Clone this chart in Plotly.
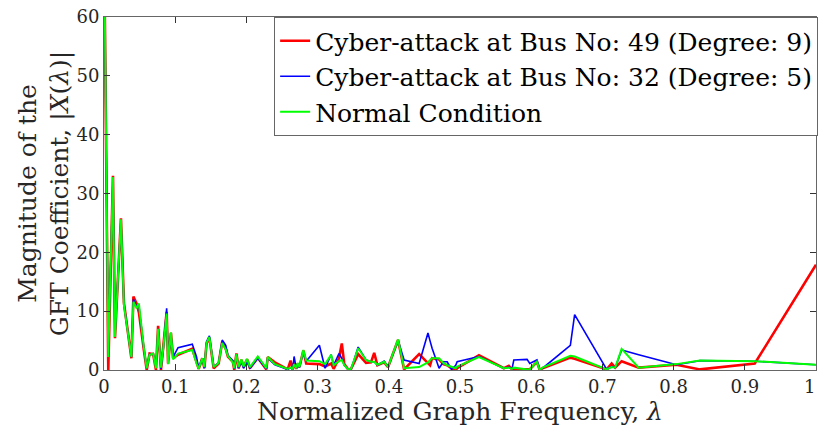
import plotly.graph_objects as go

# Normalized graph frequencies (shared eigenvalues)
lam = [0.000, 0.006, 0.0126, 0.0154, 0.0238, 0.028, 0.0385, 0.0413, 0.0457, 0.049,
       0.056, 0.060, 0.064, 0.069, 0.073, 0.076, 0.080, 0.083, 0.088, 0.090,
       0.094, 0.097, 0.104, 0.124, 0.130, 0.133, 0.138, 0.141, 0.144, 0.148,
       0.154, 0.161, 0.166, 0.171, 0.174, 0.181, 0.183, 0.186, 0.189, 0.193,
       0.196, 0.201, 0.205, 0.216, 0.228, 0.230, 0.240, 0.258, 0.262, 0.265,
       0.267, 0.270, 0.272, 0.2745, 0.280, 0.284, 0.3025, 0.3105, 0.319, 0.3225,
       0.330, 0.334, 0.3375, 0.343, 0.347, 0.357, 0.368, 0.375, 0.3795, 0.384,
       0.3935, 0.399, 0.413, 0.4215, 0.4426, 0.455, 0.458, 0.4608, 0.4706, 0.4766,
       0.482, 0.488, 0.494, 0.496, 0.5266, 0.5616, 0.5686, 0.573, 0.5756, 0.5942,
       0.598, 0.608, 0.612, 0.616, 0.655, 0.661, 0.706, 0.713, 0.718, 0.727,
       0.751, 0.804, 0.837, 0.914, 1.000]

attack_49 = [75, 0.0, 33.0, 5.4, 25.8, 11.4, 2.0, 12.5, 11.3, 9.8,
             3.4, 0.0, 2.8, 2.7, 0.0, 7.5, 0.0, 3.5, 9.9, 1.1,
             6.3, 2.0, 2.6, 3.6, 1.2, 0.2, 2.0, 0.3, 4.5, 5.5,
             0.3, 1.1, 4.8, 3.6, 2.3, 1.4, 0.0, 2.8, 0.3, 1.7,
             0.5, 1.8, 0.3, 2.1, 0.1, 2.2, 1.3, 0.1, 1.6, 0.1,
             1.2, 0.2, 1.1, 0.5, 3.3, 1.1, 1.0, 0.6, 1.1, 0.2,
             2.0, 4.5, 1.0, 0.1, 0.2, 2.7, 1.2, 1.3, 2.9, 0.8,
             1.3, 0.5, 5.1, 0.1, 2.7, 1.3, 0.8, 2.0, 1.8, 1.0,
             0.8, 0.3, 0.0, 0.3, 2.5, 0.3, 0.7, 0.1, 0.1, 0.0,
             0.1, 1.4, 0.0, 0.3, 2.1, 1.9, 0.1, 1.1, 0.4, 1.5,
             0.4, 0.9, 0.1, 1.1, 17.9]

attack_32 = [75, 2.5, 32.5, 5.8, 25.5, 11.2, 2.2, 12.0, 10.8, 11.0,
             3.6, 0.3, 2.6, 2.8, 0.4, 7.0, 0.2, 3.2, 10.5, 1.3,
             6.0, 2.2, 3.8, 4.4, 2.2, 0.2, 2.0, 0.3, 4.8, 5.8,
             0.6, 1.2, 5.1, 4.2, 2.5, 1.6, 0.2, 2.6, 0.3, 1.5,
             0.3, 1.4, 0.3, 2.0, 0.2, 2.0, 0.9, 0.1, 0.4, 0.1,
             2.3, 0.3, 1.0, 0.4, 3.2, 1.5, 4.2, 0.3, 2.6, 0.8,
             2.8, 2.0, 0.8, 0.1, 0.1, 3.9, 1.7, 1.4, 1.4, 0.8,
             1.5, 0.5, 5.0, 1.7, 1.1, 6.3, 4.9, 3.7, 0.3, 1.4,
             1.4, 0.1, 0.8, 1.4, 2.3, 0.3, 0.5, 0.2, 1.7, 1.8,
             1.1, 1.7, 0.1, 0.3, 4.2, 9.4, 0.1, 0.6, 0.4, 3.4,
             2.6, 0.9, 1.6, 1.5, 0.9]

normal = [75, 2.2, 32.8, 5.6, 25.6, 11.0, 2.2, 11.6, 10.5, 11.3,
          3.8, 0.3, 2.6, 2.8, 0.3, 7.0, 0.4, 3.4, 9.6, 1.0,
          6.4, 1.8, 2.8, 3.4, 1.1, 0.2, 2.0, 0.5, 4.6, 5.6,
          0.5, 1.2, 4.6, 3.5, 2.4, 1.3, 0.3, 2.7, 0.5, 1.8,
          0.6, 1.9, 0.5, 2.3, 0.3, 2.2, 1.0, 0.2, 0.4, 0.2,
          1.0, 0.3, 1.2, 0.5, 3.4, 1.6, 1.5, 1.0, 2.6, 0.8,
          1.5, 1.7, 0.8, 0.1, 0.2, 3.7, 1.7, 1.4, 1.4, 0.9,
          1.4, 0.5, 5.2, 0.3, 0.5, 1.3, 1.7, 2.0, 2.0, 1.2,
          0.8, 0.5, 0.3, 0.6, 2.2, 0.3, 0.4, 0.2, 0.4, 0.1,
          0.1, 1.4, 0.0, 0.4, 2.4, 2.3, 0.1, 0.5, 0.4, 3.6,
          0.4, 1.0, 1.6, 1.5, 0.9]

names = ["Cyber-attack at Bus No: 49 (Degree: 9)",
         "Cyber-attack at Bus No: 32 (Degree: 5)",
         "Normal Condition"]
x_ticks = [0, 0.1, 0.2, 0.3, 0.4, 0.5, 0.6, 0.7, 0.8, 0.9, 1]
x_ticktext = ["0", "0.1", "0.2", "0.3", "0.4", "0.5", "0.6", "0.7", "0.8", "0.9", ""]
y_ticks = [0, 10, 20, 30, 40, 50, 60]

FONT = "DejaVu Serif, Liberation Serif, serif"

fig = go.Figure()
fig.add_trace(go.Scatter(x=lam, y=attack_49, mode="lines", name=names[0],
                         line=dict(color="#FF0000", width=2.6)))
fig.add_trace(go.Scatter(x=lam, y=attack_32, mode="lines", name=names[1],
                         line=dict(color="#0000FF", width=1.6)))
fig.add_trace(go.Scatter(x=lam, y=normal, mode="lines", name=names[2],
                         line=dict(color="#00FF00", width=2.0)))

axis_common = dict(showline=True, linecolor="#666666", linewidth=1, mirror="ticks",
                   ticks="inside", ticklen=6, tickcolor="#333333", showgrid=False,
                   zeroline=False, tickfont=dict(family=FONT, size=18, color="#262626"))

fig.update_layout(
    width=820, height=430,
    margin=dict(l=104, r=2, t=17, b=60),
    paper_bgcolor="white", plot_bgcolor="white",
    font=dict(family=FONT, color="#000000"),
    showlegend=True,
    legend=dict(x=1.003, y=1, xanchor="right", yanchor="top",
                bgcolor="white", bordercolor="#666666", borderwidth=1,
                font=dict(family=FONT, size=25, color="#000000"),
                itemwidth=30, tracegroupgap=0),
    xaxis=dict(range=[0, 1], tickvals=x_ticks, ticktext=x_ticktext,
               title=dict(text="Normalized Graph Frequency, <i>λ</i>",
                          font=dict(family=FONT, size=25, color="#262626"), standoff=4),
               **axis_common),
    yaxis=dict(range=[0, 60], tickvals=y_ticks,
               title=dict(text="Magnitude of the<br>GFT Coefficient, |<i>X</i>(<i>λ</i>)|",
                          font=dict(family=FONT, size=25, color="#262626"), standoff=0),
               **axis_common),
    annotations=[dict(x=1, y=0, xref="x", yref="paper", text="1", showarrow=False,
                      xanchor="right", yanchor="top", yshift=-4, xshift=1,
                      font=dict(family=FONT, size=18, color="#262626"))],
)

fig.write_html("out.html")
